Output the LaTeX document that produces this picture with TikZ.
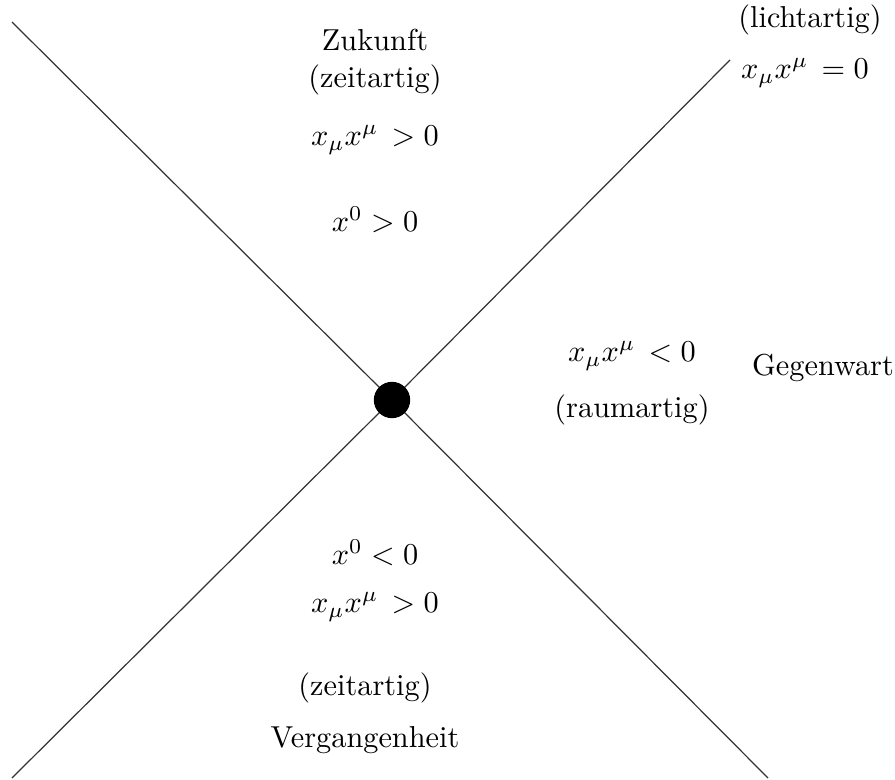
\documentclass[tikz,border=0pt]{standalone}
\usepackage{amsmath}
\usetikzlibrary{positioning}

\begin{document}
\begin{tikzpicture}[x=0.33pt, y=-0.33pt,
    lab/.style={inner sep=1pt},
    cone/.style={line width=0.4pt, black!80}]
    \useasboundingbox (0,0) rectangle (895,780);

    % Lichtkegel
    \coordinate (o) at (392,400);
    \coordinate (tl) at (12,22);
    \coordinate (br) at (768,778);
    \coordinate (bl) at (12,778);
    \coordinate (tr) at (730,60);
    \draw[cone] (tl) -- (o) -- (br);
    \draw[cone] (bl) -- (o) -- (tr);

    % Ereignis im Ursprung
    \node[circle, fill=black, minimum size=12pt, inner sep=0pt] (ev) at (o) {};

    % Zukunft
    \node[lab] (zuk) at (375,40) {Zukunft};
    \node[lab] (zeit1) at (375,80) {(zeitartig)};
    \node[lab] (pos1) at (375,140) {$x_\mu x^\mu\,>0$};
    \node[lab] (fut) at (375,220) {$x^0>0$};

    % Lichtartig
    \node[lab] (licht) at (810,20) {(lichtartig)};
    \node[lab] (null) at (805,73) {$x_\mu x^\mu\,=0$};

    % Gegenwart
    \node[lab] (neg) at (632,356) {$x_\mu x^\mu\,<0$};
    \node[lab] (raum) at (632,410) {(raumartig)};
    \node[lab] (geg) at (823,368) {Gegenwart};

    % Vergangenheit
    \node[lab] (past) at (375,553) {$x^0<0$};
    \node[lab] (pos2) at (375,607) {$x_\mu x^\mu\,>0$};
    \node[lab] (zeit2) at (365,688) {(zeitartig)};
    \node[lab] (verg) at (365,740) {Vergangenheit};
\end{tikzpicture}
\end{document}
